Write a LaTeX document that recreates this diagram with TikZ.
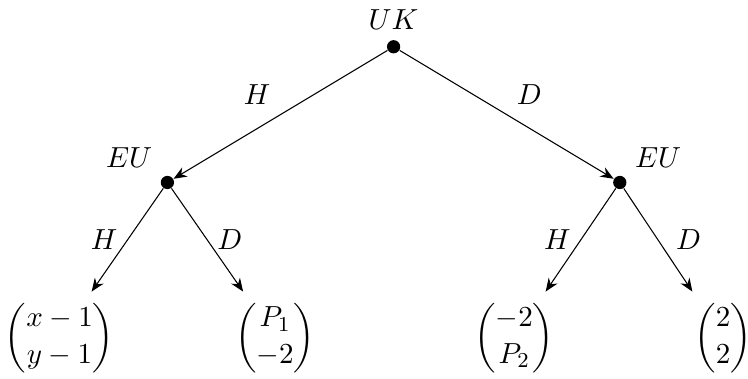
\documentclass[11pt,tikz,border=0pt]{standalone}
\usepackage{amsmath}
\usetikzlibrary{arrows.meta, positioning}

\begin{document}
\begin{tikzpicture}[
  player/.style={circle, fill, inner sep=0pt, minimum size=5pt},
  move/.style={-{Stealth[length=5pt, width=4pt]}},
]
\useasboundingbox (-5.22,-4.40) rectangle (4.70,0.62);
% decision nodes
\node[player] (uk) at (0,0) {};
\node[player] (eul) at (-3,-1.8) {};
\node[player] (eur) at (3,-1.8) {};
\node[above=0pt of uk] (uklab) {$UK$};
\node[above left=0pt of eul] (eullab) {$EU$};
\node[above right=0pt of eur] (eurlab) {$EU$};

% payoffs
\node (ll) at (-4.43,-3.86) {$\begin{pmatrix} x-1 \\ y-1 \end{pmatrix}$};
\node (lr) at (-1.57,-3.86) {$\begin{pmatrix} P_1 \\ -2 \end{pmatrix}$};
\node (rl) at (1.60,-3.86) {$\begin{pmatrix} -2 \\ P_2 \end{pmatrix}$};
\node (rr) at (4.37,-3.86) {$\begin{pmatrix} 2 \\ 2 \end{pmatrix}$};

% moves
\draw[move] (uk) -- node[above left] (ukh) {$H$} (eul);
\draw[move] (uk) -- node[above right] (ukd) {$D$} (eur);
\draw[move] (eul) -- node[left] (eulh) {$H$} (ll);
\draw[move] (eul) -- node[right] (euld) {$D$} (lr);
\draw[move] (eur) -- node[left] (eurh) {$H$} (rl);
\draw[move] (eur) -- node[right=3pt] (eurd) {$D$} (rr);
\end{tikzpicture}
\end{document}
